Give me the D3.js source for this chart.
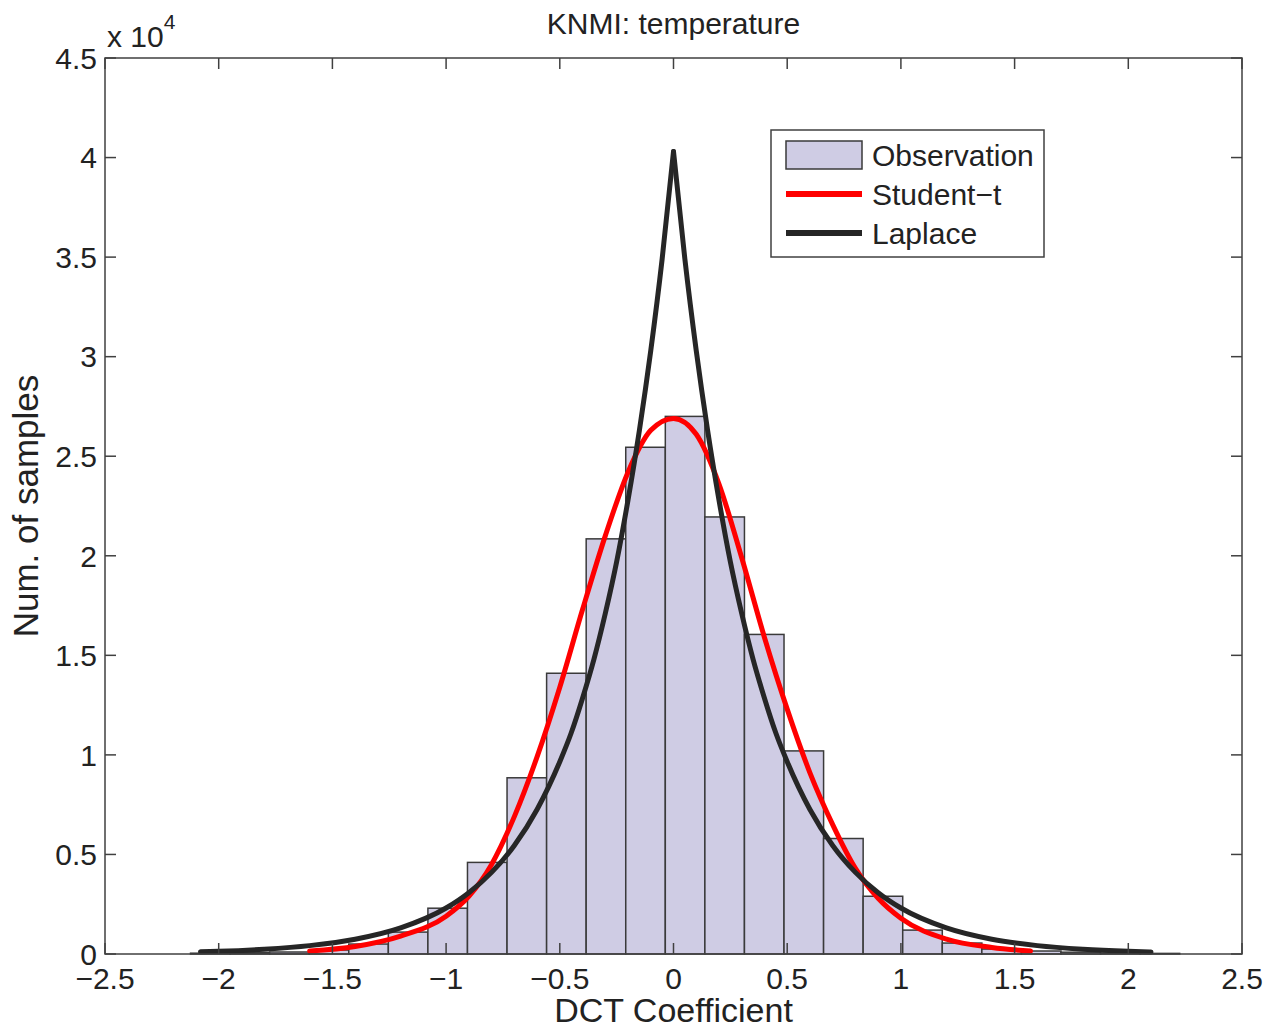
<!DOCTYPE html>
<html>
<head>
<meta charset="utf-8">
<script src="https://cdn.jsdelivr.net/npm/d3@7"></script>
<style>
  body { margin: 0; background: #fff; }
  text { font-family: "Liberation Sans", Arial, sans-serif; fill: #222; }
</style>
</head>
<body>
<div id="chart"></div>
<script>
// histogram bins (centre of each bin, counts)
const binCenters = [-2.037, -1.863, -1.689, -1.515, -1.341, -1.167, -0.993, -0.819, -0.645, -0.471,
    -0.297, -0.123, 0.051, 0.225, 0.399, 0.573, 0.747, 0.921, 1.095, 1.269,
    1.443, 1.617, 1.791, 1.965, 2.139];
const binWidth = 0.174;
const binCounts = [40, 70, 100, 200, 500, 1100, 2300, 4600, 8850, 14100,
    20850, 25450, 27000, 21950, 16050, 10200, 5800, 2900, 1200, 550,
    250, 150, 90, 50, 30];

// fitted Student-t curve
const studentX = [-1.6, -1.4, -1.2, -1.0, -0.9, -0.8, -0.7, -0.6, -0.5, -0.4, -0.3, -0.2, -0.1, 0,
    0.1, 0.2, 0.3, 0.4, 0.5, 0.6, 0.7, 0.8, 0.9, 1.0, 1.2, 1.4, 1.57];
const studentY = [150, 380, 900, 1900, 2900, 4500, 6900, 9900, 13400, 17300, 21000, 24200, 26300, 26900,
    26100, 23600, 19900, 15900, 12300, 9100, 6500, 4300, 2800, 1800, 750, 330, 150];

// fitted Laplace curve
const laplaceX = [-2.08, -2.0, -1.8, -1.6, -1.4, -1.2, -1.0, -0.9, -0.8, -0.7, -0.6, -0.5, -0.45, -0.4, -0.35,
    -0.3, -0.25, -0.2, -0.15, -0.1, -0.05, 0,
    0.05, 0.1, 0.15, 0.2, 0.25, 0.3, 0.35, 0.4, 0.45, 0.5, 0.6, 0.7, 0.8, 0.9, 1.0, 1.2, 1.4, 1.6, 1.8, 2.0, 2.1];
const laplaceY = [110, 135, 240, 420, 740, 1310, 2310, 3080, 4100, 5450, 7260, 9660, 11100, 12850, 14800,
    17100, 19700, 22800, 26300, 30300, 34900, 40300,
    34900, 30300, 26300, 22800, 19700, 17100, 14800, 12850, 11100, 9660, 7260, 5450, 4100, 3080, 2310, 1310, 740, 420, 240, 135, 100];

const xTicks = [-2.5, -2, -1.5, -1, -0.5, 0, 0.5, 1, 1.5, 2, 2.5];
const yTicks = [0, 5000, 10000, 15000, 20000, 25000, 30000, 35000, 40000, 45000];

const legendItems = [
    {label: 'Observation', type: 'patch'},
    {label: 'Student\u2212t', type: 'line', color: '#ff0000'},
    {label: 'Laplace', type: 'line', color: '#262626'}
];

const width = 1266, height = 1028;
const margin = {top: 58, right: 24, bottom: 74, left: 105};
const innerW = width - margin.left - margin.right;
const innerH = height - margin.top - margin.bottom;

const svg = d3.select('#chart').append('svg')
    .attr('width', width)
    .attr('height', height);

const x = d3.scaleLinear().domain([-2.5, 2.5]).range([0, innerW]);
const y = d3.scaleLinear().domain([0, 45000]).range([innerH, 0]);

const g = svg.append('g').attr('transform', `translate(${margin.left},${margin.top})`);

const fmt = d => d < 0 ? '\u2212' + Math.abs(d) : String(d);

// bars
g.append('g').selectAll('rect')
    .data(binCenters.map((c, i) => ({c, v: binCounts[i]})))
    .enter()
    .append('rect')
    .attr('x', d => x(d.c - binWidth / 2))
    .attr('width', d => x(d.c + binWidth / 2) - x(d.c - binWidth / 2))
    .attr('y', d => y(d.v))
    .attr('height', d => innerH - y(d.v))
    .attr('fill', '#cfcce4')
    .attr('stroke', '#3a3a3a')
    .attr('stroke-width', 1.5);

// curves
const line = d3.line()
    .x(d => x(d[0]))
    .y(d => y(d[1]))
    .curve(d3.curveMonotoneX);

g.append('path')
    .attr('d', line(studentX.map((v, i) => [v, studentY[i]])))
    .attr('fill', 'none')
    .attr('stroke', '#ff0000')
    .attr('stroke-width', 5)
    .attr('stroke-linecap', 'round');

// laplace in two halves so the peak stays sharp
const laplacePts = laplaceX.map((v, i) => [v, laplaceY[i]]);
const peak = laplaceX.indexOf(0);
[laplacePts.slice(0, peak + 1), laplacePts.slice(peak)].forEach(part => {
    g.append('path')
        .attr('d', line(part))
        .attr('fill', 'none')
        .attr('stroke', '#262626')
        .attr('stroke-width', 5)
        .attr('stroke-linecap', 'round');
});

// axes box with inward ticks on all sides
const tickLen = 11;
const axisColor = '#404040';
g.append('rect')
    .attr('width', innerW)
    .attr('height', innerH)
    .attr('fill', 'none')
    .attr('stroke', axisColor)
    .attr('stroke-width', 1.5);

const ticks = g.append('g').attr('stroke', axisColor).attr('stroke-width', 1.5);
xTicks.forEach(t => {
    ticks.append('line').attr('x1', x(t)).attr('x2', x(t)).attr('y1', innerH).attr('y2', innerH - tickLen);
    ticks.append('line').attr('x1', x(t)).attr('x2', x(t)).attr('y1', 0).attr('y2', tickLen);
});
yTicks.forEach(t => {
    ticks.append('line').attr('x1', 0).attr('x2', tickLen).attr('y1', y(t)).attr('y2', y(t));
    ticks.append('line').attr('x1', innerW).attr('x2', innerW - tickLen).attr('y1', y(t)).attr('y2', y(t));
});

g.append('g').selectAll('text')
    .data(xTicks)
    .enter()
    .append('text')
    .attr('x', d => x(d))
    .attr('y', innerH + 35)
    .attr('text-anchor', 'middle')
    .style('font-size', '30px')
    .text(fmt);

g.append('g').selectAll('text')
    .data(yTicks)
    .enter()
    .append('text')
    .attr('x', -8)
    .attr('y', d => y(d))
    .attr('dy', '0.36em')
    .attr('text-anchor', 'end')
    .style('font-size', '30px')
    .text(d => fmt(d / 10000));

// exponent
const expo = svg.append('text')
    .attr('x', margin.left + 2)
    .attr('y', 47)
    .style('font-size', '30px');
expo.append('tspan').text('x 10');
expo.append('tspan').attr('dy', -18).style('font-size', '21px').text('4');

// titles
svg.append('text')
    .attr('x', margin.left + innerW / 2)
    .attr('y', 34)
    .attr('text-anchor', 'middle')
    .style('font-size', '30px')
    .text('KNMI: temperature');

svg.append('text')
    .attr('x', margin.left + innerW / 2)
    .attr('y', 1022)
    .attr('text-anchor', 'middle')
    .style('font-size', '34px')
    .text('DCT Coefficient');

svg.append('text')
    .attr('transform', `translate(38,${margin.top + innerH / 2}) rotate(-90)`)
    .attr('text-anchor', 'middle')
    .style('font-size', '35px')
    .text('Num. of samples');

// legend
const legend = svg.append('g').attr('transform', 'translate(771,130)');
legend.append('rect')
    .attr('width', 273)
    .attr('height', 127)
    .attr('fill', '#fff')
    .attr('stroke', axisColor)
    .attr('stroke-width', 1.5);

legendItems.forEach((item, i) => {
    const cy = 25 + i * 39;
    if (item.type === 'patch') {
        legend.append('rect')
            .attr('x', 15).attr('y', cy - 14)
            .attr('width', 76).attr('height', 28)
            .attr('fill', '#cfcce4')
            .attr('stroke', '#3a3a3a')
            .attr('stroke-width', 1.5);
    } else {
        legend.append('line')
            .attr('x1', 15).attr('x2', 91)
            .attr('y1', cy).attr('y2', cy)
            .attr('stroke', item.color)
            .attr('stroke-width', 6);
    }
    legend.append('text')
        .attr('x', 101)
        .attr('y', cy)
        .attr('dy', '0.36em')
        .style('font-size', '30px')
        .text(item.label);
});
</script>
</body>
</html>
